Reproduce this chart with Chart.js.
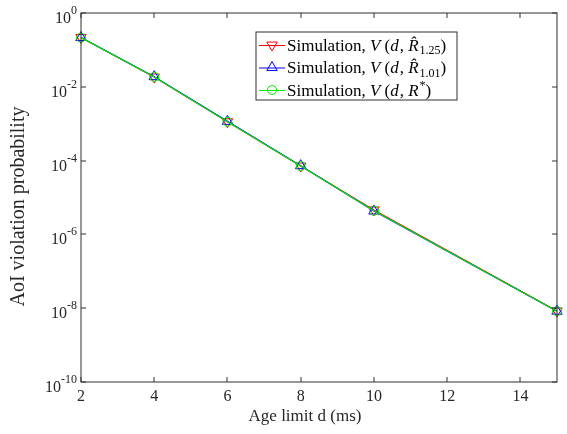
<!DOCTYPE html>
<html><head><meta charset="utf-8">
<script src="https://cdn.jsdelivr.net/npm/chart.js@4.4.0/dist/chart.umd.min.js"></script>
<style>html,body{margin:0;padding:0;background:#fff}canvas{display:block}</style>
</head><body>
<canvas id="c" width="567" height="434"></canvas>
<script>
// ---- data ----
const ageLimits = [2, 4, 6, 8, 10, 15];
const simR125  = [0.217, 0.0184, 1.13e-3, 7.1e-5, 4.6e-6, 8.4e-9];
const simR101  = [0.217, 0.0188, 1.16e-3, 7.3e-5, 4.3e-6, 8.3e-9];
const simRstar = [0.215, 0.0185, 1.13e-3, 7.1e-5, 4.4e-6, 8.3e-9];
const xTickLabels = [2, 4, 6, 8, 10, 12, 14];
const yTickExponents = [0, -2, -4, -6, -8, -10];
const xTitle = 'Age limit d (ms)';
const yTitle = 'AoI violation probability';
const legendTexts = [
  [{t:'Simulation, '},{t:'V',i:1,gap:3},{t:'('},{t:'d',i:1},{t:', '},{t:'R\u0302',i:1},{t:'1.25',sub:1},{t:')'}],
  [{t:'Simulation, '},{t:'V',i:1,gap:3},{t:'('},{t:'d',i:1},{t:', '},{t:'R\u0302',i:1},{t:'1.01',sub:1},{t:')'}],
  [{t:'Simulation, '},{t:'V',i:1,gap:3},{t:'('},{t:'d',i:1},{t:', '},{t:'R',i:1},{t:'*',sup:1},{t:')'}]
];

const SERIF = '"Liberation Serif", "Times New Roman", serif';
const seriesStyles = [
  {color:'#ff0000', pointStyle:'triangle', rotation:180, radius:6},
  {color:'#0000ff', pointStyle:'triangle', rotation:0, radius:6},
  {color:'#00ee00', pointStyle:'circle', rotation:0, radius:4.5}
];
const seriesData = [simR125, simR101, simRstar];

const datasets = seriesData.map((vals, k) => ({
  data: ageLimits.map((d, j) => ({x: d, y: vals[j]})),
  borderColor: seriesStyles[k].color,
  borderWidth: 1.2,
  pointStyle: seriesStyles[k].pointStyle,
  pointRotation: seriesStyles[k].rotation,
  pointRadius: seriesStyles[k].radius,
  pointBorderColor: seriesStyles[k].color,
  pointBackgroundColor: 'rgba(0,0,0,0)',
  pointBorderWidth: 1,
  tension: 0,
  fill: false,
  clip: false,
  order: 3 - k
}));

function drawMarker(ctx, st, x, y) {
  ctx.save();
  ctx.strokeStyle = st.color; ctx.lineWidth = 1;
  ctx.beginPath();
  if (st.pointStyle === 'circle') {
    ctx.arc(x, y, st.radius, 0, Math.PI * 2);
  } else {
    let rad = st.rotation * Math.PI / 180;
    for (let i = 0; i < 3; i++) {
      const px = x + Math.sin(rad) * st.radius, py = y - Math.cos(rad) * st.radius;
      i ? ctx.lineTo(px, py) : ctx.moveTo(px, py);
      rad += 2 * Math.PI / 3;
    }
    ctx.closePath();
  }
  ctx.stroke();
  ctx.restore();
}

const decorPlugin = {
  id: 'decor',
  afterDraw(chart) {
    const ctx = chart.ctx, a = chart.chartArea;
    const xs = chart.scales.x, ys = chart.scales.y;
    const L = Math.round(a.left), R = Math.round(a.right);
    const T = Math.round(a.top), B = Math.round(a.bottom);
    ctx.save();
    ctx.strokeStyle = '#303030'; ctx.lineWidth = 1;
    ctx.strokeRect(L, T, R - L, B - T);
    const tl = 5;
    ctx.beginPath();
    xTickLabels.forEach(v => {
      const px = Math.round(xs.getPixelForValue(v));
      ctx.moveTo(px, B); ctx.lineTo(px, B - tl);
      ctx.moveTo(px, T); ctx.lineTo(px, T + tl);
    });
    yTickExponents.forEach(e => {
      const py = Math.round(ys.getPixelForValue(Math.pow(10, e)));
      ctx.moveTo(L, py); ctx.lineTo(L + tl, py);
      ctx.moveTo(R, py); ctx.lineTo(R - tl, py);
    });
    ctx.stroke();

    ctx.fillStyle = '#262626';
    ctx.textBaseline = 'alphabetic';
    // x tick labels
    ctx.font = '16px ' + SERIF; ctx.textAlign = 'center';
    xTickLabels.forEach(v => ctx.fillText(String(v), xs.getPixelForValue(v), 401));
    // y tick labels with superscripts
    yTickExponents.forEach(e => {
      const py = ys.getPixelForValue(Math.pow(10, e));
      const exp = String(e);
      ctx.font = '12px ' + SERIF;
      const we = ctx.measureText(exp).width;
      ctx.textAlign = 'left';
      const right = a.left - 4;
      ctx.fillText(exp, right - we, py + 1);
      ctx.font = '16px ' + SERIF;
      const wb = ctx.measureText('10').width;
      ctx.fillText('10', right - we - wb, py + 10);
    });
    // axis titles
    ctx.font = '17px ' + SERIF; ctx.textAlign = 'center';
    ctx.fillText(xTitle, (a.left + a.right) / 2 - 14, 421);
    ctx.save();
    ctx.translate(24, (a.top + a.bottom) / 2 + 9);
    ctx.rotate(-Math.PI / 2);
    ctx.font = '20px ' + SERIF;
    ctx.fillText(yTitle, 0, 0);
    ctx.restore();

    // legend
    const bx = 256, by = 32, bw = 201, bh = 68;
    ctx.fillStyle = '#fff';
    ctx.fillRect(bx, by, bw, bh);
    ctx.strokeStyle = '#303030';
    ctx.strokeRect(bx, by, bw, bh);
    const rows = [45, 67.5, 90];
    legendTexts.forEach((segs, k) => {
      const st = seriesStyles[k], cy = rows[k];
      ctx.strokeStyle = st.color; ctx.lineWidth = 1;
      ctx.beginPath(); ctx.moveTo(259, cy + 0.5); ctx.lineTo(285, cy + 0.5); ctx.stroke();
      drawMarker(ctx, st, 272, cy);
      let x = 287;
      ctx.fillStyle = '#000'; ctx.textAlign = 'left';
      segs.forEach(s => {
        let size = 17, dy = 5.5;
        if (s.sub) { size = 12; dy = 9; }
        if (s.sup) { size = 12; dy = -1; }
        ctx.font = (s.i ? 'italic ' : '') + size + 'px ' + SERIF;
        ctx.fillText(s.t, x, cy + dy);
        x += ctx.measureText(s.t).width + (s.i ? 1 : 0) + (s.gap || 0);
      });
    });
    ctx.restore();
  }
};

new Chart(document.getElementById('c'), {
  type: 'line',
  data: {datasets},
  options: {
    responsive: false,
    devicePixelRatio: 1,
    animation: false,
    layout: {padding: {left: 0, right: 10, top: 13, bottom: 0}},
    plugins: {legend: {display: false}, tooltip: {enabled: false}},
    scales: {
      x: {
        type: 'linear', min: 2, max: 15,
        grid: {display: false}, border: {display: false},
        ticks: {display: false},
        afterFit(s) { s.height = 52; }
      },
      y: {
        type: 'logarithmic', min: 1e-10, max: 1,
        grid: {display: false}, border: {display: false},
        ticks: {display: false},
        afterFit(s) { s.width = 81; }
      }
    }
  },
  plugins: [decorPlugin]
});
</script>
</body></html>
